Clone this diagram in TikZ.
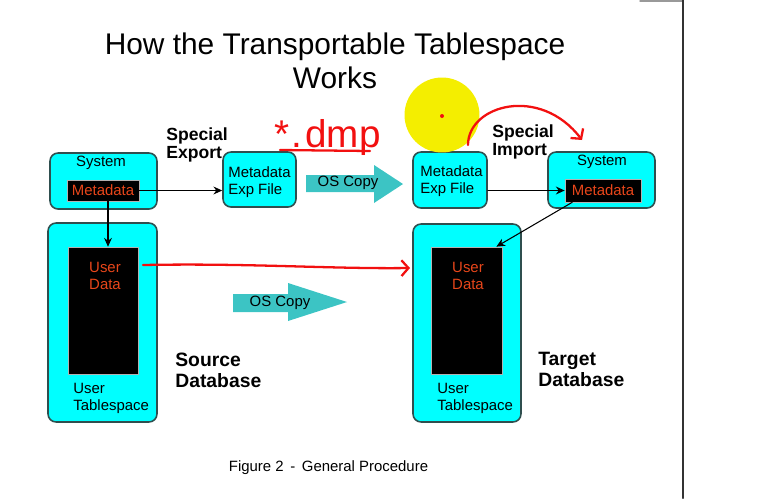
\documentclass[tikz,border=0pt]{standalone}
\usepackage{fontspec}
\setmainfont{Liberation Sans}
\usetikzlibrary{positioning,calc,arrows.meta}
\definecolor{SlideCyan}{HTML}{00FFFF}
\definecolor{SlideEdge}{HTML}{2F4F4F}
\definecolor{SlideTeal}{HTML}{3CC4C4}
\definecolor{SlideOrange}{HTML}{E8461A}
\definecolor{PenRed}{HTML}{F21010}
\definecolor{PenYellow}{HTML}{F4EE00}
\tikzset{
  cyanbox/.style={draw=SlideEdge,line width=0.9pt,fill=SlideCyan,rounded corners=0.16cm,inner sep=0pt},
  blackbox/.style={draw=gray!60,line width=0.4pt,fill=black,inner sep=0pt,text=SlideOrange,font=\fontsize{8.5}{9.7}\selectfont},
  smalltext/.style={font=\fontsize{8.5}{9.7}\selectfont,inner sep=0pt},
  steptext/.style={font=\bfseries\fontsize{10}{10.5}\selectfont,align=left,inner sep=0pt,anchor=west},
  dbtext/.style={font=\bfseries\fontsize{11}{12}\selectfont,align=left,inner sep=0pt,anchor=west},
  conn/.style={line width=0.6pt,-{Stealth[length=5pt,width=4.5pt]}},
  oscopy/.style={fill=SlideTeal},
  penline/.style={PenRed,line width=1.3pt}
}

\begin{document}
\begin{tikzpicture}[x=0.02cm,y=-0.02cm,line cap=round,line join=round]
  \useasboundingbox (0,0) rectangle (761,498);
  \draw[gray!80,line width=0.8pt] (640,1)--(683,1);
  \draw[black!80,line width=1.2pt] (683,0)--(683,498);
  \node[font=\fontsize{17}{19}\selectfont,align=center,inner sep=0pt] (title) at (335,61) {How the Transportable Tablespace\\Works};
  % export side
  \node[cyanbox,minimum width=2.14cm,minimum height=1.12cm] (lsys) at (103.5,181) {};
  \node[smalltext] (lsystxt) at (101,163) {System};
  \node[blackbox,minimum width=1.44cm,minimum height=0.42cm] (lmeta) at (103,190.5) {Metadata};
  \node[cyanbox,minimum width=1.46cm,minimum height=1.10cm] (lexp) at (259.5,179.5) {};
  \node[smalltext,align=left,anchor=west] (lexptxt) at (228,182) {Metadata\\Exp File};
  \node[steptext] (export) at (166,145) {Special\\Export};
  \node[cyanbox,minimum width=2.18cm,minimum height=3.98cm] (lts) at (102.5,322.5) {};
  \node[blackbox,minimum width=1.40cm,minimum height=2.54cm] (ldata) at (103,310.5) {};
  \node[smalltext,align=center,text=SlideOrange] (ldatatxt) at (105,276) {User\\Data};
  \node[smalltext,align=left,anchor=west] (ltstxt) at (73,398) {User\\Tablespace};
  \node[dbtext] (source) at (175,370) {Source\\Database};
  % import side
  \node[cyanbox,minimum width=1.48cm,minimum height=1.12cm] (rexp) at (450,180) {};
  \node[smalltext,align=left,anchor=west] (rexptxt) at (420,181) {Metadata\\Exp File};
  \node[steptext] (import) at (492,142) {Special\\Import};
  \node[cyanbox,minimum width=2.14cm,minimum height=1.12cm] (rsys) at (601.5,180) {};
  \node[smalltext] (rsystxt) at (602,162) {System};
  \node[blackbox,minimum width=1.52cm,minimum height=0.46cm] (rmeta) at (603,190.5) {Metadata};
  \node[cyanbox,minimum width=2.16cm,minimum height=3.96cm] (rts) at (467,323) {};
  \node[blackbox,minimum width=1.42cm,minimum height=2.54cm] (rdata) at (466.5,310.5) {};
  \node[smalltext,align=center,text=SlideOrange] (rdatatxt) at (468,276) {User\\Data};
  \node[smalltext,align=left,anchor=west] (rtstxt) at (437,398) {User\\Tablespace};
  \node[dbtext] (target) at (538,369) {Target\\Database};
  % os copy arrows
  \fill[oscopy] (306,175)--(374,175)--(374,165)--(403,184)--(374,203)--(374,192)--(306,192)--cycle;
  \node[smalltext] (copytop) at (348,183) {OS Copy};
  \fill[oscopy] (233,294)--(288,294)--(288,283)--(347,302)--(288,321)--(288,312)--(233,312)--cycle;
  \node[smalltext] (copymid) at (280,303) {OS Copy};
  \draw[conn] (lmeta.east) -- (lmeta.east -| lexp.west);
  \draw[conn] ([xshift=1mm]lmeta.south) -- ([xshift=1mm]lmeta.south |- ldata.north);
  \draw[conn] (rexp.east |- rmeta.west) -- (rmeta.west);
  \draw[conn] ([xshift=1.5mm]rmeta.south west) -- ([xshift=-1.2mm]rdata.north east);
  \node[font=\fontsize{8.5}{10}\selectfont,inner sep=0pt] (caption) at (328.5,468) {Figure 2 \,-\, General Procedure};
  % pen notes
  \fill[PenYellow] (442,115) circle[radius=0.75cm];
  \fill[PenRed] (442,116) circle[radius=0.04cm];
  \node[text=PenRed,font=\fontsize{22}{22}\selectfont,inner sep=0pt,anchor=base west] (dmp) at (274,147) {*\kern1pt.\kern2pt dmp};
  \draw[penline] (280,150) -- (370,151);
  \draw[penline,-{Straight Barb[length=4pt,width=9pt]}] (468,145) .. controls (468,105) and (540,85) .. (582,140);
  \draw[penline,-{Straight Barb[length=4pt,width=9pt]}] (143,265) .. controls (250,263) and (330,269) .. (410,268);
\end{tikzpicture}
\end{document}
